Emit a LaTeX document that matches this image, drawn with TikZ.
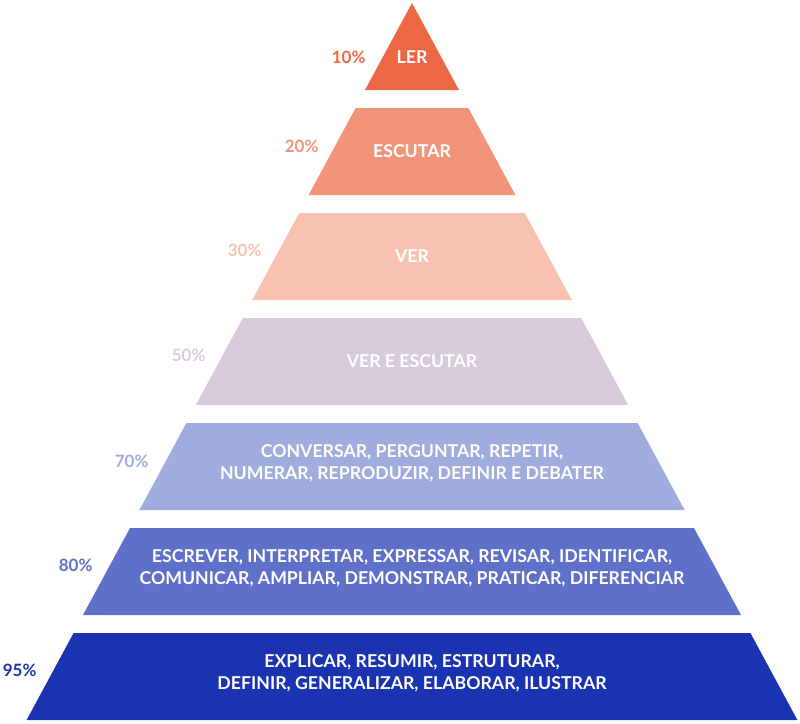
\documentclass[tikz,border=0pt]{standalone}
\usepackage{fontspec}
\setmainfont{Lato}

\definecolor{lvlA}{HTML}{EC6844}
\definecolor{lvlB}{HTML}{F2947A}
\definecolor{lvlC}{HTML}{F7C3B0}
\definecolor{lvlD}{HTML}{D8CCDC}
\definecolor{lvlE}{HTML}{A0ACDE}
\definecolor{lvlF}{HTML}{5E70C7}
\definecolor{lvlG}{HTML}{1A33B0}

\begin{document}
\begin{tikzpicture}[x=1pt, y=-1pt,
    level/.style={text=white, align=center, font=\fontsize{17.7}{22}\selectfont\bfseries},
    pct/.style={anchor=east, font=\fontsize{17}{18}\selectfont\bfseries}]

  \useasboundingbox (0,0) rectangle (800,723);

  %% ---- LEVELS ----
  \fill[lvlA] (412,3) -- (459,90) -- (365,90) -- cycle;
  \fill[lvlB] (355.6,108) -- (468.4,108) -- (515.4,195) -- (308.6,195) -- cycle;
  \fill[lvlC] (299.2,213) -- (524.8,213) -- (571.8,300) -- (252.2,300) -- cycle;
  \fill[lvlD] (242.8,318) -- (581.2,318) -- (628.2,405) -- (195.8,405) -- cycle;
  \fill[lvlE] (186.4,423) -- (637.6,423) -- (684.6,510) -- (139.4,510) -- cycle;
  \fill[lvlF] (130,528) -- (694,528) -- (741,615) -- (83,615) -- cycle;
  \fill[lvlG] (73.6,633) -- (750.4,633) -- (797.4,720) -- (26.6,720) -- cycle;

  %% ---- TEXTS ----
  \node[level] (ler) at (412,57.5) {LER};
  \node[level] (escutar) at (412,151.5) {ESCUTAR};
  \node[level] (ver) at (412,256.5) {VER};
  \node[level] (verescutar) at (412,361.5) {VER E ESCUTAR};
  \node[level] (conversar) at (412,463.5) {CONVERSAR, PERGUNTAR, REPETIR,\\NUMERAR, REPRODUZIR, DEFINIR E DEBATER};
  \node[level] (escrever) at (412,568.5) {ESCREVER, INTERPRETAR, EXPRESSAR, REVISAR, IDENTIFICAR,\\COMUNICAR, AMPLIAR, DEMONSTRAR, PRATICAR, DIFERENCIAR};
  \node[level] (explicar) at (412,673.5) {EXPLICAR, RESUMIR, ESTRUTURAR,\\DEFINIR, GENERALIZAR, ELABORAR, ILUSTRAR};

  %% ---- PERCENTAGES ----
  \node[pct, text=lvlA] (p10) at (369,57) {10\%};
  \node[pct, text=lvlB] (p20) at (322,146) {20\%};
  \node[pct, text=lvlC] (p30) at (265,250) {30\%};
  \node[pct, text=lvlD] (p50) at (209,355) {50\%};
  \node[pct, text=lvlE] (p70) at (152,461) {70\%};
  \node[pct, text=lvlF] (p80) at (96,565) {80\%};
  \node[pct, text=lvlG] (p95) at (40,670) {95\%};

\end{tikzpicture}
\end{document}
